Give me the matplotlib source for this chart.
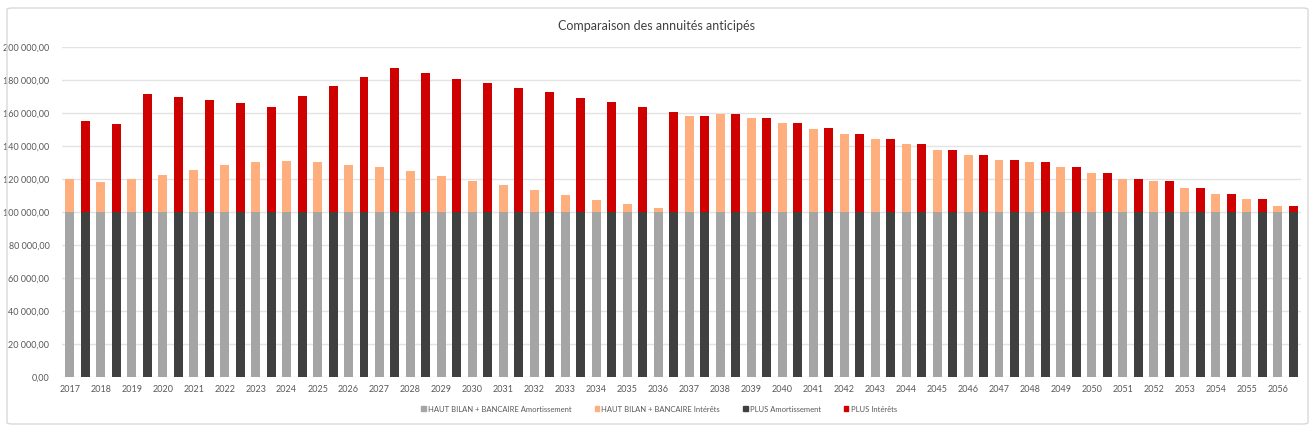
import numpy as np
import matplotlib
matplotlib.use("Agg")
import matplotlib.pyplot as plt
from matplotlib.patches import FancyBboxPatch, Patch
from matplotlib.ticker import FuncFormatter

plt.rcParams['font.family'] = ['Lato', 'DejaVu Sans']

# données
years = list(range(2017, 2057))
hb_amort = [100000] * 40
hb_interets = [20000, 18000, 20000, 22600, 25500, 28300, 30500, 31100, 30500, 28700,
               27300, 24800, 21800, 19000, 16400, 13500, 10500, 7500, 4800, 2600,
               58000, 59600, 56800, 53900, 50500, 47100, 44400, 41200, 37800, 34500,
               31500, 30500, 27300, 23600, 20000, 18600, 14500, 11100, 7700, 3600]
plus_amort = [100000] * 40
plus_interets = [55150, 53300, 71500, 69900, 67700, 65900, 63600, 70300, 76200, 81800,
                 87100, 84200, 80600, 78000, 75200, 72700, 69300, 66500, 63600, 60800,
                 58000, 59600, 57000, 53900, 50700, 47100, 44400, 41200, 37800, 34500,
                 31500, 30500, 27300, 23600, 20000, 18600, 14500, 11100, 7700, 3600]

c_hb_am = '#A5A5A5'
c_hb_int = '#FFAF7D'
c_pl_am = '#404040'
c_pl_int = '#CE0000'

fig = plt.figure(figsize=(13.16, 4.32), dpi=100)
ax = fig.add_axes([62 / 1316, 55 / 432, 1239 / 1316, 330 / 432])

# cadre du graphique
fig.patches.append(FancyBboxPatch((7 / 1316, 8 / 432), 1301 / 1316, 416 / 432,
                                  boxstyle="round,pad=0,rounding_size=0.004",
                                  transform=fig.transFigure, facecolor='none',
                                  edgecolor='#D9D9D9', linewidth=1))

x_hb = np.arange(40) * 2
x_pl = x_hb + 1
w = 0.58

ax.bar(x_hb, hb_amort, w, color=c_hb_am, zorder=3)
ax.bar(x_hb, hb_interets, w, bottom=hb_amort, color=c_hb_int, zorder=3)
ax.bar(x_pl, plus_amort, w, color=c_pl_am, zorder=3)
ax.bar(x_pl, plus_interets, w, bottom=plus_amort, color=c_pl_int, zorder=3)

ax.set_xlim(-0.5, 79.5)
ax.set_ylim(0, 200000)
ax.set_yticks(np.arange(0, 200001, 20000))
ax.yaxis.set_major_formatter(FuncFormatter(lambda v, p: f"{v:,.2f}".replace(",", " ").replace(".", ",")))
ax.set_xticks(x_hb)
ax.set_xticklabels([str(y) for y in years])
ax.tick_params(axis='both', length=0, labelsize=6.5, colors='#595959')
ax.tick_params(axis='y', pad=9)
ax.tick_params(axis='x', pad=6)
ax.grid(axis='y', color='#E3E3E3', linewidth=1, zorder=0)
for s in ax.spines.values():
    s.set_visible(False)

fig.text(656 / 1316, 1 - 26 / 432, "Comparaison des annuités anticipés",
         ha='center', va='center', fontsize=9, color='#404040')

handles = [Patch(color=c_hb_am), Patch(color=c_hb_int), Patch(color=c_pl_am), Patch(color=c_pl_int)]
labels = ["HAUT BILAN + BANCAIRE Amortissement", "HAUT BILAN + BANCAIRE Intérêts",
          "PLUS Amortissement", "PLUS Intérêts"]
fig.legend(handles, labels, loc='center', bbox_to_anchor=(659 / 1316, 23 / 432), ncol=4,
           frameon=False, fontsize=5.5, handlelength=0.6, handleheight=0.6,
           handletextpad=0.3, columnspacing=3.0, labelcolor='#595959')

fig.savefig("out.png", dpi=100)
